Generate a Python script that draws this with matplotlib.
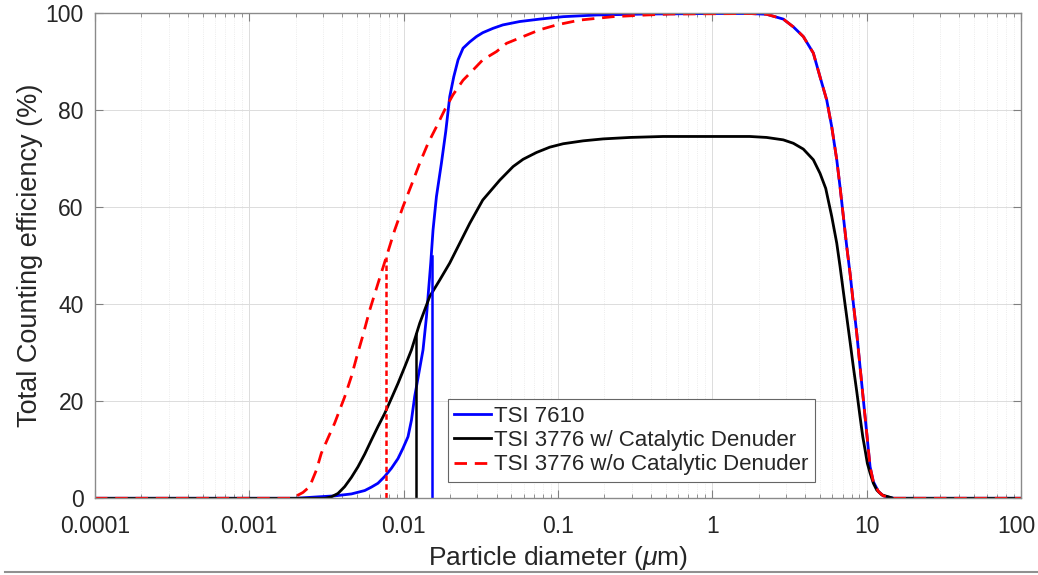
import matplotlib
matplotlib.use("Agg")
import matplotlib.pyplot as plt
from matplotlib.lines import Line2D
from matplotlib.ticker import FuncFormatter, LogLocator, MultipleLocator
from matplotlib.transforms import ScaledTranslation

plt.rcParams['font.family'] = ['Liberation Sans', 'DejaVu Sans']
plt.rcParams['mathtext.fontset'] = 'custom'
plt.rcParams['mathtext.rm'] = 'Liberation Sans'
plt.rcParams['mathtext.it'] = 'Liberation Sans:italic'

# particle diameter (um) / counting efficiency (%)
d_7610 = [1e-4, 0.0020, 0.00279, 0.00358, 0.00459, 0.0056, 0.00618, 0.00682, 0.00754,
          0.00834, 0.0092, 0.0099, 0.01068, 0.01124, 0.0118, 0.01336, 0.01406, 0.0144,
          0.01499, 0.01551, 0.01632, 0.01758, 0.01875, 0.0199, 0.02113, 0.02254, 0.02428,
          0.02684, 0.02966, 0.03258, 0.038, 0.04394, 0.0566, 0.0763, 0.1081, 0.1787,
          0.3755, 1.0, 1.75, 2.25, 2.887, 3.353, 3.892, 4.519, 4.994, 5.52, 5.948, 6.41,
          6.733, 7.074, 7.44, 7.816, 8.21, 8.64, 9.076, 9.533, 10.03, 10.54, 11.07,
          11.93, 12.85, 14.93, 20, 100]
eff_7610 = [0, 0, 0.3, 0.5, 0.9, 1.6, 2.3, 3.1, 4.5,
            6.2, 8.2, 10.3, 12.7, 16.1, 21.0, 30.6, 37.4, 41.6,
            48.5, 55.3, 62.2, 69.1, 75.6, 82.8, 86.9, 90.4, 92.8,
            94.1, 95.2, 96.0, 96.9, 97.6, 98.3, 98.8, 99.3, 99.65,
            99.85, 99.95, 99.95, 99.8, 98.8, 97.2, 95.2, 91.8, 86.9, 82.1, 76.6, 69.8,
            64.2, 58.1, 51.9, 46.4, 40.2, 34.0, 27.1, 20.3, 13.4, 6.5, 3.4,
            1.4, 0.5, 0, 0, 0]

d_den = [1e-4, 0.0031, 0.0034, 0.003755, 0.00415, 0.004586, 0.005063, 0.005595, 0.006182,
         0.006823, 0.007542, 0.008336, 0.009199, 0.01017, 0.01124, 0.01272, 0.01476,
         0.01714, 0.0199, 0.02311, 0.02684, 0.03258, 0.04201, 0.05124, 0.05949, 0.07264,
         0.08862, 0.1081, 0.1457, 0.1964, 0.2926, 0.48, 1.0, 1.75, 2.25, 2.887, 3.353,
         3.892, 4.519, 4.994, 5.437, 5.948, 6.41, 6.733, 7.074, 7.44, 7.816, 8.21, 8.64,
         9.076, 9.45, 9.78, 10.12, 10.54, 11.07, 11.64, 12.56, 14.93, 20, 100]
eff_den = [0, 0, 0.3, 1.0, 2.4, 4.3, 6.5, 9.1, 12.0,
           14.8, 17.5, 20.6, 23.7, 27.1, 30.6, 36.1, 41.6,
           45.0, 48.5, 52.6, 56.7, 61.5, 65.6, 68.4, 69.9, 71.3,
           72.4, 73.1, 73.7, 74.1, 74.4, 74.6, 74.6, 74.6, 74.4, 73.9, 73.2,
           72.0, 69.8, 67.0, 63.9, 58.1, 52.6, 47.8, 42.6, 37.4, 32.3, 27.1, 22.0,
           16.8, 12.7, 10.0, 7.2, 5.2, 3.1, 1.7, 0.7, 0, 0, 0]

d_noden = [1e-4, 0.0019, 0.00197, 0.002227, 0.00246, 0.00272, 0.00293, 0.003234, 0.003575,
           0.003851, 0.00415, 0.004586, 0.004942, 0.00545, 0.006031, 0.006823, 0.007735,
           0.008755, 0.0099, 0.01124, 0.01272, 0.0144, 0.01632, 0.01847, 0.0209, 0.02428,
           0.02819, 0.03258, 0.03997, 0.04642, 0.05949, 0.0763, 0.0979, 0.1387, 0.227,
           0.3755, 0.5317, 1.0, 1.75, 2.25, 2.887, 3.353, 3.892, 4.519, 4.994, 5.52,
           5.948, 6.41, 6.733, 7.074, 7.44, 7.816, 8.21, 8.64, 9.076, 9.533, 10.03,
           10.54, 11.07, 11.93, 12.85, 14.93, 20, 100]
eff_noden = [0, 0, 0.3, 1.2, 2.4, 5.8, 9.3, 12.4, 15.5,
             18.2, 20.9, 25.1, 28.9, 33.6, 38.8, 44.3, 49.8,
             55.3, 60.1, 64.6, 69.1, 73.2, 76.6, 80.1, 83.2, 86.2,
             88.3, 90.4, 92.1, 93.8, 95.2, 96.6, 97.6, 98.6, 99.3,
             99.65, 99.85, 99.9, 99.95, 99.8, 98.8, 97.2, 95.2, 91.8, 86.9, 82.1,
             76.6, 69.8, 64.2, 58.1, 51.9, 46.4, 40.2, 34.0, 27.1, 20.3, 13.4,
             6.5, 3.4, 1.4, 0.5, 0, 0, 0]

# cut-off markers (d50 lines)
d50_7610, h50_7610 = 0.01537, 50
d50_den, h50_den = 0.0120, 33.9
d50_noden, h50_noden = 0.00774, 49.8

labels = ['TSI 7610', 'TSI 3776 w/ Catalytic Denuder', 'TSI 3776 w/o Catalytic Denuder']
xticks = [1e-4, 1e-3, 1e-2, 1e-1, 1, 10, 100]

fig = plt.figure(figsize=(10.38, 5.75), dpi=100)
ax = fig.add_axes([0.0915, 0.1334, 0.892, 0.8435])

txt = '#262626'
ax.plot(d_7610, eff_7610, color='#0000ff', lw=2.0, label=labels[0])
ax.plot(d_den, eff_den, color='black', lw=2.0, label=labels[1])
ax.plot(d_noden, eff_noden, color='#ff0000', lw=2.0, dashes=(4.5, 2.8), label=labels[2])

ax.plot([d50_7610, d50_7610], [0, h50_7610], color='#0000ff', lw=1.8)
ax.plot([d50_den, d50_den], [0, h50_den], color='black', lw=1.8)
ax.plot([d50_noden, d50_noden], [0, h50_noden], color='#ff0000', lw=1.8, dashes=(2.2, 1.3))

ax.set_xscale('log')
ax.set_xlim(1e-4, 100)
ax.set_ylim(0, 100)
ax.set_xticks(xticks)
ax.xaxis.set_major_formatter(FuncFormatter(lambda v, p: '%g' % v))
ax.xaxis.set_minor_locator(LogLocator(base=10, subs=range(2, 10), numticks=20))
ax.yaxis.set_major_locator(MultipleLocator(20))

ax.grid(True, which='major', color='#dcdcdc', lw=0.7)
ax.grid(True, which='minor', axis='x', color='#e6e6e6', lw=0.6, ls=':')
ax.set_axisbelow(True)

ax.tick_params(which='both', direction='in', top=True, right=True,
               colors='#808080', labelcolor=txt, labelsize=16.5)
ax.tick_params(which='major', length=6, width=0.8)
ax.tick_params(which='minor', length=3, width=0.6)
ax.tick_params(axis='x', which='major', pad=12)
ax.tick_params(axis='y', which='major', pad=8)
for s in ax.spines.values():
    s.set_color('#8a8a8a')
    s.set_linewidth(1.0)

# nudge the last x label so it stays inside the picture
last = ax.get_xticklabels()[-1]
last.set_transform(last.get_transform() + ScaledTranslation(-3 / 72, 0, fig.dpi_scale_trans))

ax.set_xlabel(r'Particle diameter ($\mu$m)', fontsize=19, color=txt, labelpad=4.5)
ax.set_ylabel('Total Counting efficiency (%)', fontsize=19.5, color=txt, labelpad=2)

leg = ax.legend(loc='upper left', bbox_to_anchor=(0.381, 0.2047), borderaxespad=0,
                fontsize=16, handlelength=1.65, handletextpad=0.15, labelspacing=0.15,
                borderpad=0.3, fancybox=False, framealpha=1)
leg.get_frame().set_edgecolor('#666666')
leg.get_frame().set_linewidth(0.8)
for t in leg.get_texts():
    t.set_color(txt)

# grey rule at the bottom of the page
fig.add_artist(Line2D([0.005, 1.0], [0.005, 0.005], color='#909090', lw=1.5,
                      transform=fig.transFigure))

fig.savefig('out.png', dpi=100)
